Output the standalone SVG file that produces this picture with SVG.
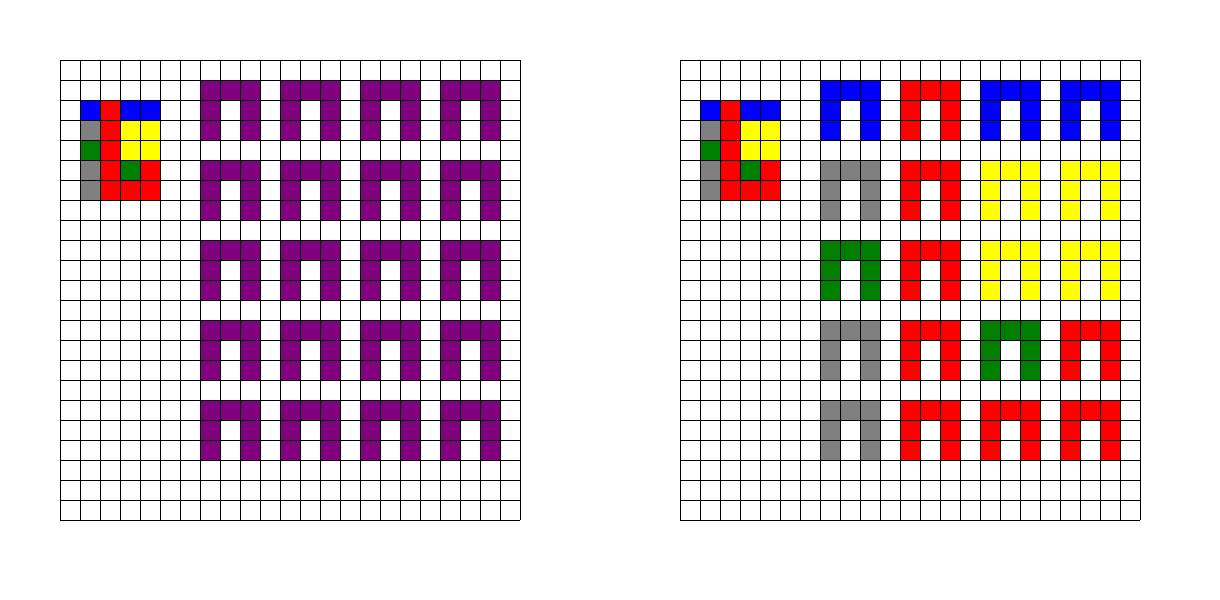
<svg xmlns="http://www.w3.org/2000/svg" xmlns:xlink="http://www.w3.org/1999/xlink" width="1220" height="600" viewBox="0 0 1220 600" shape-rendering="crispEdges">
<style>
.b{fill:#0000ff}.r{fill:#ff0000}.y{fill:#ffff00}.g{fill:#008000}.k{fill:#808080}.p{fill:#800080}
.grid{fill:none;stroke:#000;stroke-width:1}
</style>
<defs>
<g id="arch">
<rect x="0" y="0" width="60" height="20"/>
<rect x="0" y="20" width="20" height="40"/>
<rect x="40" y="20" width="20" height="40"/>
</g>
<g id="key">
<rect class="b" x="80" y="100" width="20" height="20"/>
<rect class="r" x="100" y="100" width="20" height="20"/>
<rect class="b" x="120" y="100" width="40" height="20"/>
<rect class="k" x="80" y="120" width="20" height="20"/>
<rect class="r" x="100" y="120" width="20" height="80"/>
<rect class="y" x="120" y="120" width="40" height="40"/>
<rect class="g" x="80" y="140" width="20" height="20"/>
<rect class="k" x="80" y="160" width="20" height="40"/>
<rect class="g" x="120" y="160" width="20" height="20"/>
<rect class="r" x="140" y="160" width="20" height="20"/>
<rect class="r" x="120" y="180" width="40" height="20"/>
</g>
<path id="lines" d="M60 60v460m20-460v460m20-460v460m20-460v460m20-460v460m20-460v460m20-460v460m20-460v460m20-460v460m20-460v460m20-460v460m20-460v460m20-460v460m20-460v460m20-460v460m20-460v460m20-460v460m20-460v460m20-460v460m20-460v460m20-460v460m20-460v460m20-460v460m20-460v460M60 60h460m-460 20h460m-460 20h460m-460 20h460m-460 20h460m-460 20h460m-460 20h460m-460 20h460m-460 20h460m-460 20h460m-460 20h460m-460 20h460m-460 20h460m-460 20h460m-460 20h460m-460 20h460m-460 20h460m-460 20h460m-460 20h460m-460 20h460m-460 20h460m-460 20h460m-460 20h460m-460 20h460"/>
</defs>
<rect width="1220" height="600" fill="#fff"/>
<g id="left-grid">
<use xlink:href="#key"/>
<g id="left-arches" class="p">
<use xlink:href="#arch" x="200" y="80"/><use xlink:href="#arch" x="280" y="80"/><use xlink:href="#arch" x="360" y="80"/><use xlink:href="#arch" x="440" y="80"/>
<use xlink:href="#arch" x="200" y="160"/><use xlink:href="#arch" x="280" y="160"/><use xlink:href="#arch" x="360" y="160"/><use xlink:href="#arch" x="440" y="160"/>
<use xlink:href="#arch" x="200" y="240"/><use xlink:href="#arch" x="280" y="240"/><use xlink:href="#arch" x="360" y="240"/><use xlink:href="#arch" x="440" y="240"/>
<use xlink:href="#arch" x="200" y="320"/><use xlink:href="#arch" x="280" y="320"/><use xlink:href="#arch" x="360" y="320"/><use xlink:href="#arch" x="440" y="320"/>
<use xlink:href="#arch" x="200" y="400"/><use xlink:href="#arch" x="280" y="400"/><use xlink:href="#arch" x="360" y="400"/><use xlink:href="#arch" x="440" y="400"/>
</g>
<use xlink:href="#lines" class="grid"/>
</g>
<g id="right-grid" transform="translate(620,0)">
<use xlink:href="#key"/>
<g id="right-arches">
<use xlink:href="#arch" class="b" x="200" y="80"/><use xlink:href="#arch" class="r" x="280" y="80"/><use xlink:href="#arch" class="b" x="360" y="80"/><use xlink:href="#arch" class="b" x="440" y="80"/>
<use xlink:href="#arch" class="k" x="200" y="160"/><use xlink:href="#arch" class="r" x="280" y="160"/><use xlink:href="#arch" class="y" x="360" y="160"/><use xlink:href="#arch" class="y" x="440" y="160"/>
<use xlink:href="#arch" class="g" x="200" y="240"/><use xlink:href="#arch" class="r" x="280" y="240"/><use xlink:href="#arch" class="y" x="360" y="240"/><use xlink:href="#arch" class="y" x="440" y="240"/>
<use xlink:href="#arch" class="k" x="200" y="320"/><use xlink:href="#arch" class="r" x="280" y="320"/><use xlink:href="#arch" class="g" x="360" y="320"/><use xlink:href="#arch" class="r" x="440" y="320"/>
<use xlink:href="#arch" class="k" x="200" y="400"/><use xlink:href="#arch" class="r" x="280" y="400"/><use xlink:href="#arch" class="r" x="360" y="400"/><use xlink:href="#arch" class="r" x="440" y="400"/>
</g>
<use xlink:href="#lines" class="grid"/>
</g>
</svg>
